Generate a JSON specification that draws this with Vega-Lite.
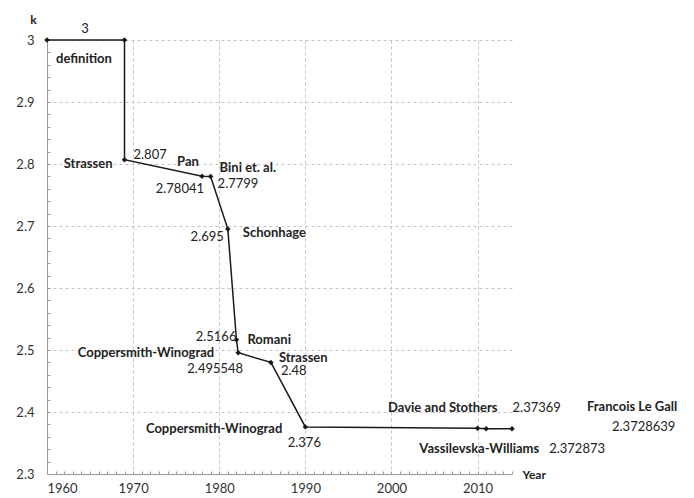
{
  "$schema": "https://vega.github.io/schema/vega-lite/v6.json",
  "width": 465,
  "height": 434,
  "autosize": "none",
  "padding": {"left": 47, "top": 40, "right": 182, "bottom": 24},
  "config": {
    "view": {"stroke": null},
    "font": "Lato",
    "text": {"font": "Lato", "fontSize": 13, "color": "#222"},
    "axis": {"labelFont": "Lato", "titleFont": "Lato"}
  },
  "data": {
    "values": [
      {"i": 0, "year": 1960, "k": 3, "name": "definition", "val": "3"},
      {"i": 1, "year": 1969, "k": 3, "name": "", "val": ""},
      {"i": 2, "year": 1969, "k": 2.807, "name": "Strassen", "val": "2.807"},
      {"i": 3, "year": 1978, "k": 2.78041, "name": "Pan", "val": "2.78041"},
      {"i": 4, "year": 1979, "k": 2.7799, "name": "Bini et. al.", "val": "2.7799"},
      {"i": 5, "year": 1981, "k": 2.695, "name": "Schonhage", "val": "2.695"},
      {"i": 6, "year": 1982, "k": 2.5166, "name": "Romani", "val": "2.5166"},
      {"i": 7, "year": 1982.2, "k": 2.495548, "name": "Coppersmith-Winograd", "val": "2.495548"},
      {"i": 8, "year": 1986, "k": 2.48, "name": "Strassen", "val": "2.48"},
      {"i": 9, "year": 1990, "k": 2.376, "name": "Coppersmith-Winograd", "val": "2.376"},
      {"i": 10, "year": 2010, "k": 2.37369, "name": "Davie and Stothers", "val": "2.37369"},
      {"i": 11, "year": 2011, "k": 2.372873, "name": "Vassilevska-Williams", "val": "2.372873"},
      {"i": 12, "year": 2014, "k": 2.3728639, "name": "Francois Le Gall", "val": "2.3728639"}
    ]
  },
  "encoding": {
    "x": {"field": "year", "type": "quantitative", "axis": null, "scale": {"domain": [1960, 2014], "nice": false, "zero": false}},
    "y": {"field": "k", "type": "quantitative", "axis": null, "scale": {"domain": [2.3, 3], "nice": false, "zero": false}}
  },
  "layer": [
    {
      "mark": {"type": "line", "color": "#1a1a1a", "strokeWidth": 1.5},
      "encoding": {
        "order": {"field": "i", "type": "quantitative"},
        "x": {"field": "year", "type": "quantitative", "scale": {"domain": [1960, 2014], "nice": false, "zero": false},
          "axis": {"orient": "bottom", "values": [1960, 1970, 1980, 1990, 2000, 2010], "format": "d", "grid": true, "gridDash": [3, 3], "gridColor": "#c4c4c4",
            "gridOpacity": {"condition": {"test": "datum.value == 1960", "value": 0}, "value": 1},
            "ticks": false, "labelPadding": 8, "labelFontSize": 13, "labelColor": "#333", "domainColor": "#9a9a9a",
            "title": "Year", "titleX": 475, "titleY": 0, "titleAlign": "left", "titleBaseline": "middle", "titleFontWeight": "bold", "titleFontSize": 12, "titleColor": "#222"}},
        "y": {"field": "k", "type": "quantitative", "scale": {"domain": [2.3, 3], "nice": false, "zero": false},
          "axis": {"orient": "left", "values": [2.3, 2.4, 2.5, 2.6, 2.7, 2.8, 2.9, 3], "format": "~g", "grid": true, "gridDash": [3, 3], "gridColor": "#c4c4c4",
            "gridOpacity": {"condition": {"test": "datum.value <= 2.3001", "value": 0}, "value": 1},
            "ticks": false, "labelPadding": 13, "labelFontSize": 13, "labelColor": "#333", "domainColor": "#9a9a9a",
            "title": "k", "titleAngle": 0, "titleX": -14, "titleY": -21, "titleAlign": "center", "titleBaseline": "middle", "titleFontWeight": "bold", "titleFontSize": 12, "titleColor": "#222"}}
      }
    },
    {
      "mark": {"type": "point", "shape": "diamond", "filled": true, "size": 30, "color": "#1a1a1a", "opacity": 1},
      "encoding": {
        "x": {"field": "year", "type": "quantitative", "scale": {"domain": [1960, 2014], "nice": false, "zero": false},
          "axis": {"orient": "bottom", "values": [1960,1961,1962,1963,1964,1965,1966,1967,1968,1969,1970,1971,1972,1973,1974,1975,1976,1977,1978,1979,1980,1981,1982,1983,1984,1985,1986,1987,1988,1989,1990,1991,1992,1993,1994,1995,1996,1997,1998,1999,2000,2001,2002,2003,2004,2005,2006,2007,2008,2009,2010,2011,2012,2013,2014],
            "labels": false, "domain": false, "grid": false, "ticks": true, "tickSize": -3, "tickColor": "#9a9a9a", "title": null}},
        "y": {"field": "k", "type": "quantitative", "scale": {"domain": [2.3, 3], "nice": false, "zero": false},
          "axis": {"orient": "left", "values": [2.3,2.32,2.34,2.36,2.38,2.4,2.42,2.44,2.46,2.48,2.5,2.52,2.54,2.56,2.58,2.6,2.62,2.64,2.66,2.68,2.7,2.72,2.74,2.76,2.78,2.8,2.82,2.84,2.86,2.88,2.9,2.92,2.94,2.96,2.98,3],
            "labels": false, "domain": false, "grid": false, "ticks": true, "tickSize": -3, "tickColor": "#9a9a9a", "title": null}}
      }
    },
    {"transform": [{"filter": "datum.i == 0"}], "mark": {"type": "text", "align": "center", "baseline": "middle", "dx": 38, "dy": -11}, "encoding": {"text": {"field": "val"}}},
    {"transform": [{"filter": "datum.i == 0"}], "mark": {"type": "text", "align": "center", "baseline": "middle", "dx": 37, "dy": 19, "fontWeight": "bold"}, "encoding": {"text": {"field": "name"}}},
    {"transform": [{"filter": "datum.i == 2"}], "mark": {"type": "text", "align": "right", "baseline": "middle", "dx": -12, "dy": 4, "fontWeight": "bold"}, "encoding": {"text": {"field": "name"}}},
    {"transform": [{"filter": "datum.i == 2"}], "mark": {"type": "text", "align": "left", "baseline": "middle", "dx": 9, "dy": -5}, "encoding": {"text": {"field": "val"}}},
    {"transform": [{"filter": "datum.i == 3"}], "mark": {"type": "text", "align": "center", "baseline": "middle", "dx": -14, "dy": -14, "fontWeight": "bold"}, "encoding": {"text": {"field": "name"}}},
    {"transform": [{"filter": "datum.i == 3"}], "mark": {"type": "text", "align": "right", "baseline": "middle", "dx": 2, "dy": 13}, "encoding": {"text": {"field": "val"}}},
    {"transform": [{"filter": "datum.i == 4"}], "mark": {"type": "text", "align": "left", "baseline": "middle", "dx": 9, "dy": -8, "fontWeight": "bold"}, "encoding": {"text": {"field": "name"}}},
    {"transform": [{"filter": "datum.i == 4"}], "mark": {"type": "text", "align": "left", "baseline": "middle", "dx": 7, "dy": 8}, "encoding": {"text": {"field": "val"}}},
    {"transform": [{"filter": "datum.i == 5"}], "mark": {"type": "text", "align": "left", "baseline": "middle", "dx": 15, "dy": 4, "fontWeight": "bold"}, "encoding": {"text": {"field": "name"}}},
    {"transform": [{"filter": "datum.i == 5"}], "mark": {"type": "text", "align": "right", "baseline": "middle", "dx": -4, "dy": 8}, "encoding": {"text": {"field": "val"}}},
    {"transform": [{"filter": "datum.i == 6"}], "mark": {"type": "text", "align": "left", "baseline": "middle", "dx": 11, "dy": 0, "fontWeight": "bold"}, "encoding": {"text": {"field": "name"}}},
    {"transform": [{"filter": "datum.i == 6"}], "mark": {"type": "text", "align": "right", "baseline": "middle", "dx": 0, "dy": -3}, "encoding": {"text": {"field": "val"}}},
    {"transform": [{"filter": "datum.i == 7"}], "mark": {"type": "text", "align": "right", "baseline": "middle", "dx": -24, "dy": 0, "fontWeight": "bold"}, "encoding": {"text": {"field": "name"}}},
    {"transform": [{"filter": "datum.i == 7"}], "mark": {"type": "text", "align": "right", "baseline": "middle", "dx": 5, "dy": 16}, "encoding": {"text": {"field": "val"}}},
    {"transform": [{"filter": "datum.i == 8"}], "mark": {"type": "text", "align": "left", "baseline": "middle", "dx": 8, "dy": -4, "fontWeight": "bold"}, "encoding": {"text": {"field": "name"}}},
    {"transform": [{"filter": "datum.i == 8"}], "mark": {"type": "text", "align": "left", "baseline": "middle", "dx": 10, "dy": 9}, "encoding": {"text": {"field": "val"}}},
    {"transform": [{"filter": "datum.i == 9"}], "mark": {"type": "text", "align": "right", "baseline": "middle", "dx": -23, "dy": 2, "fontWeight": "bold"}, "encoding": {"text": {"field": "name"}}},
    {"transform": [{"filter": "datum.i == 9"}], "mark": {"type": "text", "align": "center", "baseline": "middle", "dx": -1, "dy": 16}, "encoding": {"text": {"field": "val"}}},
    {"transform": [{"filter": "datum.i == 10"}], "mark": {"type": "text", "align": "right", "baseline": "middle", "dx": 20, "dy": -20, "fontWeight": "bold"}, "encoding": {"text": {"field": "name"}}},
    {"transform": [{"filter": "datum.i == 10"}], "mark": {"type": "text", "align": "left", "baseline": "middle", "dx": 35, "dy": -20}, "encoding": {"text": {"field": "val"}}},
    {"transform": [{"filter": "datum.i == 11"}], "mark": {"type": "text", "align": "right", "baseline": "middle", "dx": 53, "dy": 20, "fontWeight": "bold"}, "encoding": {"text": {"field": "name"}}},
    {"transform": [{"filter": "datum.i == 11"}], "mark": {"type": "text", "align": "left", "baseline": "middle", "dx": 63, "dy": 20}, "encoding": {"text": {"field": "val"}}},
    {"transform": [{"filter": "datum.i == 12"}], "mark": {"type": "text", "align": "left", "baseline": "middle", "dx": 75, "dy": -22, "fontWeight": "bold"}, "encoding": {"text": {"field": "name"}}},
    {"transform": [{"filter": "datum.i == 12"}], "mark": {"type": "text", "align": "left", "baseline": "middle", "dx": 100, "dy": -2}, "encoding": {"text": {"field": "val"}}}
  ],
  "resolve": {"axis": {"x": "independent", "y": "independent"}}
}
